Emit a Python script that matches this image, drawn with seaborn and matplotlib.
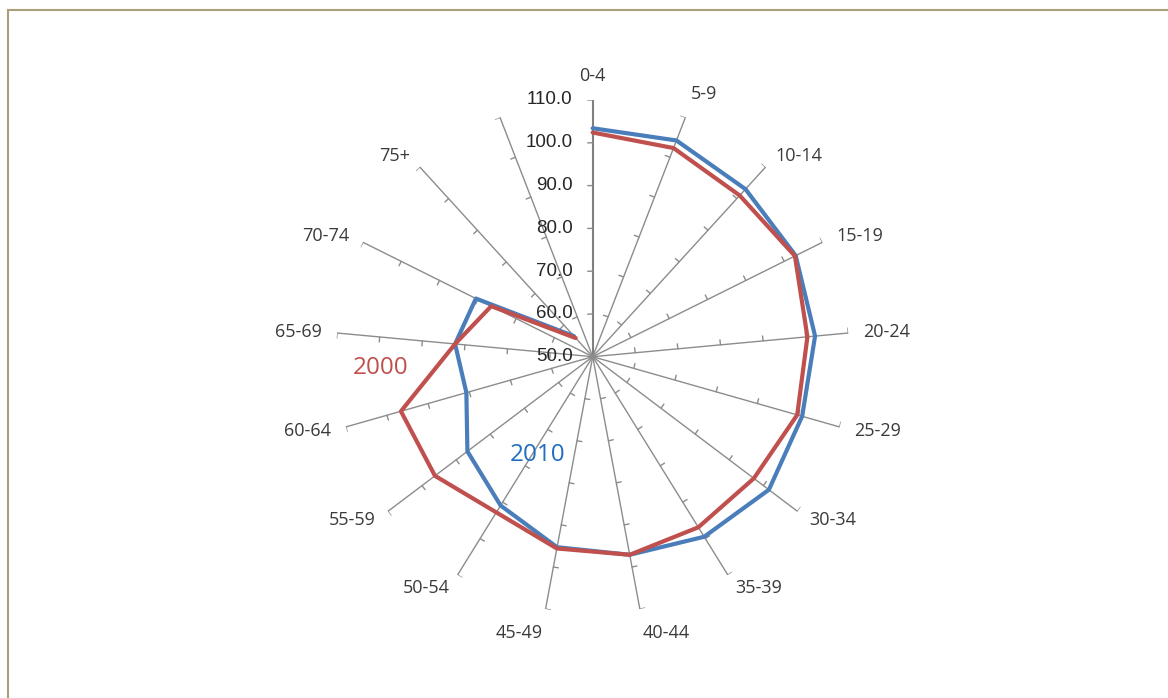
import numpy as np
import pandas as pd
import matplotlib
matplotlib.use("Agg")
import matplotlib.pyplot as plt
import seaborn as sns

# ---- data ----
categories = ["0-4", "5-9", "10-14", "15-19", "20-24", "25-29", "30-34", "35-39",
              "40-44", "45-49", "50-54", "55-59", "60-64", "65-69", "70-74", "75+", ""]
values_2000 = [102.4, 102.3, 101.0, 102.8, 100.4, 99.7, 97.2, 96.9,
               97.1, 95.6, 92.8, 96.2, 96.6, 82.3, 76.5, 55.9]
values_2010 = [103.4, 104.2, 103.0, 103.0, 102.2, 100.9, 101.6, 99.5,
               97.1, 95.3, 90.9, 86.7, 80.7, 82.3, 80.5, 56.5]
series_names = ["2000", "2010"]
r_ticks = [50, 60, 70, 80, 90, 100, 110]
r_tick_labels = ["50.0", "60.0", "70.0", "80.0", "90.0", "100.0", "110.0"]

RED = "#C0504D"
BLUE = "#4A7EBB"
SPOKE = "#8C8C8C"
TXT = "#3A3A3A"

sns.set_theme(style="white")
plt.rcParams["font.family"] = ["Open Sans", "DejaVu Sans"]

W, H = 1168, 698
fig = plt.figure(figsize=(W / 100, H / 100), dpi=100)

cx, cy, R = 592.7, 356.7, 256.7
ax = fig.add_axes([(cx - R) / W, (H - cy - R) / H, 2 * R / W, 2 * R / H],
                  projection="polar")
ax.set_theta_zero_location("N")
ax.set_theta_direction(-1)
ax.set_ylim(r_ticks[0], r_ticks[-1])

n = len(categories)
theta = np.arange(n) * 2 * np.pi / n

# spokes
ax.set_xticks(theta)
ax.set_xticklabels([])
ax.set_yticks([])
ax.grid(False)
ax.spines["polar"].set_visible(False)
ax.set_facecolor("none")
for i, t in enumerate(theta):
    ax.plot([t, t], [r_ticks[0], r_ticks[-1]],
            color="#7F7F7F" if i == 0 else SPOKE,
            lw=1.5 if i == 0 else 1.0, zorder=1, solid_capstyle="butt")
    # tick marks on counter-clockwise side
    for r in r_ticks[1:]:
        rpx = (r - r_ticks[0]) / (r_ticks[-1] - r_ticks[0]) * R
        d = 5.0 / rpx
        ax.plot([t, t - d], [r, r], color=SPOKE, lw=1.0, zorder=1)

# data lines (open polylines, last category blank)
df = pd.DataFrame({
    "theta": np.concatenate([theta[:len(values_2010)], theta[:len(values_2000)]]),
    "value": values_2010 + values_2000,
    "year": ["2010"] * len(values_2010) + ["2000"] * len(values_2000),
})
sns.lineplot(data=df[df.year == "2010"], x="theta", y="value", sort=False,
             color=BLUE, lw=3.0, ax=ax, zorder=3, estimator=None)
sns.lineplot(data=df[df.year == "2000"], x="theta", y="value", sort=False,
             color=RED, lw=3.0, ax=ax, zorder=4, estimator=None)
ax.set_xlabel("")
ax.set_ylabel("")
ax.set_ylim(r_ticks[0], r_ticks[-1])

# radial labels along vertical axis
for r, lab in zip(r_ticks, r_tick_labels):
    ax.annotate(lab, xy=(0, r), xytext=(-20, 0), textcoords="offset pixels",
                ha="right", va="center", fontsize=13.5, color="#262626",
                family=["Liberation Sans", "DejaVu Sans"], zorder=5)

# category labels
gap = 15
for t, lab in zip(theta, categories):
    if not lab:
        continue
    sx, sy = np.sin(t), np.cos(t)
    ha = "left" if sx > 0.15 else ("right" if sx < -0.15 else "center")
    if sy > 0.9:
        va = "bottom"
    elif sy < -0.9:
        va = "top"
    else:
        va = "center"
    ax.annotate(lab, xy=(t, r_ticks[-1]), xytext=(gap * sx, gap * sy),
                textcoords="offset pixels", ha=ha, va=va, fontsize=13,
                color=TXT, annotation_clip=False)

# series name labels
fig.text(381 / W, 1 - 368 / H, series_names[0], color=RED, fontsize=17.5,
         ha="center", va="center")
fig.text(538 / W, 1 - 455 / H, series_names[1], color="#1F6EBF", fontsize=17.5,
         ha="center", va="center")

# chart border (top and left visible)
border = plt.Rectangle((7.5 / W, -0.1), 1.2, 1 - 9.5 / H + 0.1,
                       transform=fig.transFigure, fill=False,
                       edgecolor="#A8A07A", lw=1.5)
fig.patches.append(border)

fig.savefig("out.png", dpi=100)
